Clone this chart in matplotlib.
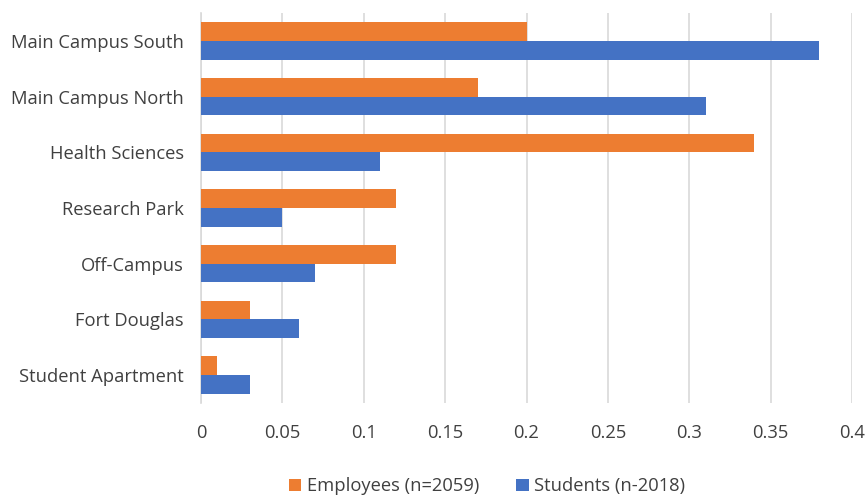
import matplotlib
matplotlib.use("Agg")
import matplotlib.pyplot as plt
import numpy as np

categories = ["Main Campus South", "Main Campus North", "Health Sciences", "Research Park",
              "Off-Campus", "Fort Douglas", "Student Apartment"]
employees = [0.20, 0.17, 0.34, 0.12, 0.12, 0.03, 0.01]
students = [0.38, 0.31, 0.11, 0.05, 0.07, 0.06, 0.03]
xticks = [0, 0.05, 0.1, 0.15, 0.2, 0.25, 0.3, 0.35, 0.4]
xticklabels = ["0", "0.05", "0.1", "0.15", "0.2", "0.25", "0.3", "0.35", "0.4"]

plt.rcParams['font.family'] = ['Open Sans', 'DejaVu Sans']
txt = '#404040'
fs = 13.2

fig = plt.figure(figsize=(8.68, 4.97), dpi=100)
ax = fig.add_axes([201/868, 1-403/497, 651/868, 390/497])

n = len(categories)
y = np.arange(n)
h = 0.335
ax.barh(y - h/2, employees, height=h, color='#ED7D31', label='Employees (n=2059)', zorder=3)
ax.barh(y + h/2, students, height=h, color='#4472C4', label='Students (n-2018)', zorder=3)

ax.set_ylim(n - 0.5, -0.5)
ax.set_xlim(0, 0.4)
ax.set_yticks(y)
ax.set_yticklabels(categories, fontsize=fs, color=txt)
ax.set_xticks(xticks)
ax.set_xticklabels(xticklabels, fontsize=fs, color=txt)
ax.tick_params(axis='both', length=0)
ax.tick_params(axis='y', pad=12.5)
ax.tick_params(axis='x', pad=15)
ax.grid(axis='x', color='#D9D9D9', linewidth=1.2, zorder=0)
for s in ['top', 'right', 'bottom']:
    ax.spines[s].set_visible(False)
ax.spines['left'].set_color('#D9D9D9')
ax.spines['left'].set_linewidth(1.2)

leg = fig.legend(loc='lower center', bbox_to_anchor=(0.561, -0.03), ncol=2, frameon=False,
                 fontsize=fs, handlelength=0.7, handleheight=0.7, handletextpad=0.3,
                 columnspacing=2.0)
for t in leg.get_texts():
    t.set_color(txt)

fig.savefig("out.png", dpi=100)
